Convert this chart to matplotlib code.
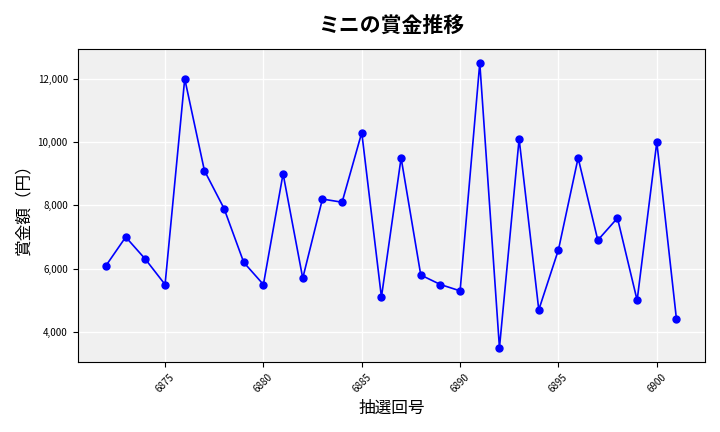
import matplotlib
matplotlib.use('Agg')
from matplotlib import pyplot as plt
from matplotlib.ticker import FuncFormatter

plt.rcParams['font.family'] = ['Noto Sans CJK JP', 'DejaVu Sans']

kaisu = list(range(6872, 6902))
shokin = [6100, 7000, 6300, 5500, 12000, 9100, 7900, 6200, 5500, 9000,
          5700, 8200, 8100, 10300, 5100, 9500, 5800, 5500, 5300, 12500,
          3500, 10100, 4700, 6600, 9500, 6900, 7600, 5000, 10000, 4400]

fig, ax = plt.subplots(figsize=(7.2, 4.32), dpi=100)
ax.set_facecolor('#f0f0f0')
ax.grid(color='white', linewidth=1)
ax.set_axisbelow(True)

ax.plot(kaisu, shokin, color='blue', marker='o', markersize=5, linewidth=1.2)

ax.set_title('ミニの賞金推移', fontsize=15, fontweight='bold', pad=12)
ax.set_xlabel('抽選回号', fontsize=12)
ax.set_ylabel('賞金額（円）', fontsize=12)
ax.yaxis.set_major_formatter(FuncFormatter(lambda v, p: f'{int(v):,}'))
ax.tick_params(axis='x', labelrotation=45, labelsize=7)
ax.tick_params(axis='y', labelsize=7)

plt.tight_layout()
plt.savefig('out.png')
